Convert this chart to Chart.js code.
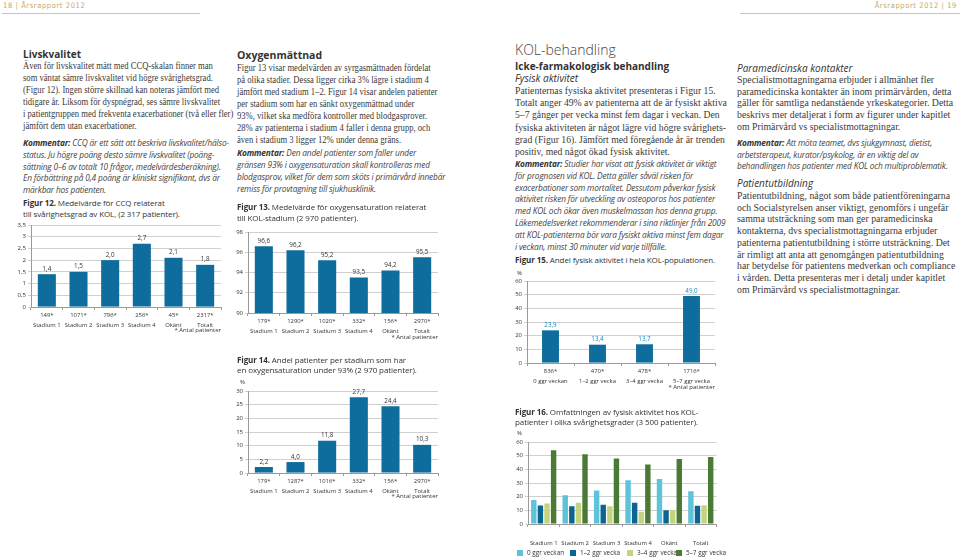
<!DOCTYPE html>
<html lang="sv">
<head>
<meta charset="UTF-8">
<title>Årsrapport 2012</title>
<style>
  html, body { margin: 0; padding: 0; background: #fff; }
  body { width: 960px; height: 558px; position: relative; overflow: hidden; color: #333; }
  .t { position: absolute; white-space: pre; }
  .serif { font-family: "Liberation Serif", serif; font-size: 10px; line-height: 12px; color: #3a3a3a; transform-origin: 0 0; }
  .narrow { transform: scaleX(0.86); }
  .kom { font-family: "Open Sans", sans-serif; font-style: italic; font-size: 8.3px; line-height: 11.8px; color: #444; letter-spacing: -0.15px; }
  .kom b { font-weight: 700; color: #333; }
  .h { font-family: "Open Sans", sans-serif; font-weight: 700; font-size: 10px; line-height: 12px; color: #333; }
  .hi { font-family: "Open Sans", sans-serif; font-style: italic; font-size: 10px; line-height: 12px; color: #333; }
  .cap { font-family: "Open Sans", sans-serif; font-size: 8px; line-height: 10.5px; color: #333; letter-spacing: -0.1px; }
  .cap b { font-weight: 700; }
  .note { font-family: "Open Sans", sans-serif; font-size: 6px; color: #333; }
  .hdr { font-family: "DejaVu Sans Condensed", "DejaVu Sans", sans-serif; font-size: 7.5px; color: #c7aa5c; top: 1px; letter-spacing: 0.6px; }
  .rule { position: absolute; height: 1px; background: #d9c68f; top: 13px; }
  canvas { position: absolute; }
  .leg { position: absolute; top: 548px; font-family: "Open Sans", sans-serif; font-size: 6.4px; color: #333; white-space: pre; }
  .leg i { display: inline-block; width: 6px; height: 6px; margin-right: 4px; vertical-align: -1px; }
</style>
</head>
<body>
<div class="t hdr" style="left:3px;">18 | Årsrapport 2012</div>
<div class="rule" style="left:2px;width:198px;"></div>
<div class="t hdr" style="right:3px;">Årsrapport 2012 | 19</div>
<div class="rule" style="left:740px;width:220px;"></div>

<!-- column 1 -->
<div class="t h" style="left:23px;top:48px;">Livskvalitet</div>
<div class="t serif narrow" style="left:23px;top:60px;">Även för livskvalitet mätt med CCQ-skalan finner man
som väntat sämre livskvalitet vid högre svårighetsgrad.
(Figur 12). Ingen större skillnad kan noteras jämfört med
tidigare år. Liksom för dyspnégrad, ses sämre livskvalitet
i patientgruppen med frekventa exacerbationer (två eller fler)
jämfört dem utan exacerbationer.</div>
<div class="t kom" style="left:23px;top:137px;"><b>Kommentar:</b> CCQ är ett sätt att beskriva livskvalitet/hälso-
status. Ju högre poäng desto sämre livskvalitet (poäng-
sättning 0–6 av totalt 10 frågor, medelvärdesberäkning).
En förbättring på 0,4 poäng är kliniskt signifikant, dvs är
märkbar hos patienten.</div>
<div class="t cap" style="left:23px;top:198px;"><b>Figur 12.</b> Medelvärde för CCQ relaterat
till svårighetsgrad av KOL, (2 317 patienter).</div>
<canvas id="fig12"></canvas>
<div class="t note" style="right:739px;top:326px;">* Antal patienter</div>

<!-- column 2 -->
<div class="t h" style="left:237px;top:49px;font-size:10.5px;">Oxygenmättnad</div>
<div class="t serif narrow" style="left:237px;top:62px;">Figur 13 visar medelvärden av syrgasmättnaden fördelat
på olika stadier. Dessa ligger cirka 3% lägre i stadium 4
jämfört med stadium 1–2. Figur 14 visar andelen patienter
per stadium som har en sänkt oxygenmättnad under
93%, vilket ska medföra kontroller med blodgasprover.
28% av patienterna i stadium 4 faller i denna grupp, och
även i stadium 3 ligger 12% under denna gräns.</div>
<div class="t kom" style="left:237px;top:147px;line-height:12px;"><b>Kommentar:</b> Den andel patienter som faller under
gränsen 93% i oxygensaturation skall kontrolleras med
blodgasprov, vilket för dem som sköts i primärvård innebär
remiss för provtagning till sjukhusklinik.</div>
<div class="t cap" style="left:237px;top:202px;"><b>Figur 13.</b> Medelvärde för oxygensaturation relaterat
till KOL-stadium (2 970 patienter).</div>
<canvas id="fig13"></canvas>
<div class="t note" style="right:522px;top:333px;">* Antal patienter</div>
<div class="t cap" style="left:237px;top:355px;line-height:9.5px;"><b>Figur 14.</b> Andel patienter per stadium som har
en oxygensaturation under 93% (2 970 patienter).</div>
<div class="t note" style="left:240px;top:378px;">%</div>
<canvas id="fig14"></canvas>
<div class="t note" style="right:522px;top:492px;">* Antal patienter</div>

<!-- column 3 -->
<div class="t" style="left:515px;top:41px;font-family:'Open Sans',sans-serif;font-weight:300;font-size:14px;line-height:18px;color:#444;">KOL-behandling</div>
<div class="t h" style="left:515px;top:60px;">Icke-farmakologisk behandling</div>
<div class="t hi" style="left:515px;top:72px;">Fysisk aktivitet</div>
<div class="t serif" style="left:515px;top:85px;line-height:12.2px;transform:scaleX(0.97);">Patienternas fysiska aktivitet presenteras i Figur 15.
Totalt anger 49% av patienterna att de är fysiskt aktiva
5–7 gånger per vecka minst fem dagar i veckan. Den
fysiska aktiviteten är något lägre vid högre svårighets-
grad (Figur 16). Jämfört med föregående år är trenden
positiv, med något ökad fysisk aktivitet.</div>
<div class="t kom" style="left:515px;top:158px;"><b>Kommentar:</b> Studier har visat att fysisk aktivitet är viktigt
för prognosen vid KOL. Detta gäller såväl risken för
exacerbationer som mortalitet. Dessutom påverkar fysisk
aktivitet risken för utveckling av osteoporos hos patienter
med KOL och ökar även muskelmassan hos denna grupp.
Läkemedelsverket rekommenderar i sina riktlinjer från 2009
att KOL-patienterna bör vara fysiskt aktiva minst fem dagar
i veckan, minst 30 minuter vid varje tillfälle.</div>
<div class="t cap" style="left:515px;top:255px;"><b>Figur 15.</b> Andel fysisk aktivitet i hela KOL-populationen.</div>
<div class="t note" style="left:517px;top:269px;">%</div>
<canvas id="fig15"></canvas>
<div class="t note" style="right:245px;top:383px;">* Antal patienter</div>
<div class="t cap" style="left:515px;top:407px;line-height:10px;"><b>Figur 16.</b> Omfattningen av fysisk aktivitet hos KOL-
patienter i olika svårighetsgrader (3 500 patienter).</div>
<div class="t note" style="left:517px;top:429px;">%</div>
<canvas id="fig16"></canvas>
<div id="legend16"></div>

<!-- column 4 -->
<div class="t hi" style="left:737px;top:62px;">Paramedicinska kontakter</div>
<div class="t serif" style="left:737px;top:74px;line-height:11.7px;transform:scaleX(0.98);">Specialistmottagningarna erbjuder i allmänhet fler
paramedicinska kontakter än inom primärvården, detta
gäller för samtliga nedanstående yrkeskategorier. Detta
beskrivs mer detaljerat i form av figurer under kapitlet
om Primärvård vs specialistmottagningar.</div>
<div class="t kom" style="left:737px;top:137px;line-height:11.7px;"><b>Kommentar:</b> Att möta teamet, dvs sjukgymnast, dietist,
arbetsterapeut, kurator/psykolog, är en viktig del av
behandlingen hos patienter med KOL och multiproblematik.</div>
<div class="t hi" style="left:737px;top:177px;">Patientutbildning</div>
<div class="t serif" style="left:737px;top:190px;line-height:11.7px;transform:scaleX(0.98);">Patientutbildning, något som både patientföreningarna
och Socialstyrelsen anser viktigt, genomförs i ungefär
samma utsträckning som man ger paramedicinska
kontakterna, dvs specialistmottagningarna erbjuder
patienterna patientutbildning i större utsträckning. Det
är rimligt att anta att genomgången patientutbildning
har betydelse för patientens medverkan och compliance
i vården. Detta presenteras mer i detalj under kapitlet
om Primärvård vs specialistmottagningar.</div>

<script src="https://cdn.jsdelivr.net/npm/chart.js@4.4.1/dist/chart.umd.min.js"></script>
<script>
// ---- data ----
const stageLabels = ['Stadium 1', 'Stadium 2', 'Stadium 3', 'Stadium 4', 'Okänt', 'Totalt'];

// Figur 12: CCQ
const ccqCounts = ['149*', '1071*', '796*', '256*', '45*', '2317*'];
const ccqValues = [1.4, 1.5, 2.0, 2.7, 2.1, 1.8];

// Figur 13: oxygensaturation
const oxyCounts = ['179*', '1290*', '1020*', '332*', '156*', '2970*'];
const oxyValues = [96.6, 96.2, 95.2, 93.5, 94.2, 95.5];

// Figur 14: andel under 93%
const lowCounts = ['179*', '1287*', '1016*', '332*', '156*', '2970*'];
const lowValues = [2.2, 4.0, 11.8, 27.7, 24.4, 10.3];

// Figur 15: fysisk aktivitet
const actLabels = ['0 ggr veckan', '1–2 ggr vecka', '3–4 ggr vecka', '5–7 ggr vecka'];
const actCounts = ['836*', '470*', '478*', '1716*'];
const actValues = [23.9, 13.4, 13.7, 49.0];

// Figur 16: fysisk aktivitet per stadium
const act0  = [17.5, 21.0, 24.5, 32.0, 33.0, 23.9];
const act12 = [13.5, 13.0, 14.0, 15.5, 10.0, 13.4];
const act34 = [15.0, 15.5, 13.0, 9.0, 10.0, 13.7];
const act57 = [54.0, 51.0, 48.0, 43.5, 47.5, 49.0];

// ---- styling ----
const BLUE = '#0f6d9d';
const GRID = '#c4c4c4';
const AXIS = '#9a9a9a';
const FONT = "'Open Sans', sans-serif";
const comma = v => String(v).replace('.', ',');
const fmt1 = v => v.toFixed(1).replace('.', ',');

const valueLabels = {
  id: 'valueLabels',
  afterDatasetsDraw(chart, args, opts) {
    if (!opts.show) return;
    const ctx = chart.ctx;
    ctx.save();
    ctx.font = '6.3px ' + FONT;
    ctx.fillStyle = opts.color || '#333';
    ctx.textAlign = 'center';
    ctx.textBaseline = 'bottom';
    chart.getDatasetMeta(0).data.forEach((bar, i) => {
      ctx.fillText(fmt1(chart.data.datasets[0].data[i]), bar.x, bar.y - 2);
    });
    ctx.restore();
  }
};

// plot box in page pixels -> canvas placement
function barChart(id, box, data, yopt, extra) {
  const cv = document.getElementById(id);
  const yw = box.yw || 18, xh = box.xh || 22, pt = box.pt || 6, pr = box.pr || 4;
  const w = box.r - box.l + yw + pr;
  const h = box.b - box.t + pt + xh;
  cv.width = w; cv.height = h;
  cv.style.left = (box.l - yw) + 'px';
  cv.style.top = (box.t - pt) + 'px';
  extra = extra || {};
  return new Chart(cv, {
    type: 'bar',
    data: data,
    plugins: [valueLabels],
    options: {
      responsive: false,
      animation: false,
      layout: { padding: { top: pt, right: pr, left: 0, bottom: 0 } },
      plugins: {
        legend: { display: false },
        tooltip: { enabled: false },
        valueLabels: { show: extra.labels !== false, color: extra.labelColor }
      },
      datasets: { bar: { categoryPercentage: extra.cat || 1, barPercentage: extra.bar || 0.57 } },
      scales: {
        x: {
          afterFit: s => { s.height = xh; },
          grid: { drawOnChartArea: false, tickLength: 3, color: AXIS, offset: true },
          border: { color: AXIS },
          ticks: { font: { family: FONT, size: 5.9, lineHeight: 1.6 }, color: '#333', padding: extra.xpad || 1, maxRotation: 0, autoSkip: false }
        },
        y: Object.assign({
          afterFit: s => { s.width = yw; },
          grid: { color: GRID, tickLength: 3, lineWidth: 0.8 },
          border: { color: AXIS }
        }, yopt)
      }
    }
  });
}

const yTicks = step => ({ stepSize: step, font: { family: FONT, size: 6 }, color: '#333', padding: 2, callback: v => comma(v) });
const twoLine = (counts, labels) => counts.map((c, i) => [c, labels[i]]);

barChart('fig12', { l: 31, t: 225, r: 221, b: 307 },
  { labels: twoLine(ccqCounts, stageLabels), datasets: [{ data: ccqValues, backgroundColor: BLUE }] },
  { min: 0, max: 3.5, ticks: yTicks(0.5) });

barChart('fig13', { l: 248, t: 232, r: 438, b: 313 },
  { labels: twoLine(oxyCounts, stageLabels), datasets: [{ data: oxyValues, backgroundColor: BLUE }] },
  { min: 90, max: 98, ticks: yTicks(2) });

barChart('fig14', { l: 248, t: 391, r: 438, b: 473 },
  { labels: twoLine(lowCounts, stageLabels), datasets: [{ data: lowValues, backgroundColor: BLUE }] },
  { min: 0, max: 30, ticks: yTicks(5) });

barChart('fig15', { l: 527, t: 281, r: 715, b: 363 },
  { labels: twoLine(actCounts, actLabels), datasets: [{ data: actValues, backgroundColor: BLUE }] },
  { min: 0, max: 60, ticks: yTicks(10) },
  { bar: 0.36, labelColor: '#1f86b8' });

const actColors = ['#5dc3d8', '#0c6591', '#c4d47e', '#4b7a36'];
barChart('fig16', { l: 528, t: 442, r: 717, b: 524, xh: 22 },
  { labels: stageLabels, datasets: [
    { label: actLabels[0], data: act0, backgroundColor: actColors[0] },
    { label: actLabels[1], data: act12, backgroundColor: actColors[1] },
    { label: actLabels[2], data: act34, backgroundColor: actColors[2] },
    { label: actLabels[3], data: act57, backgroundColor: actColors[3] }
  ] },
  { min: 0, max: 60, ticks: yTicks(10) },
  { labels: false, cat: 0.84, bar: 0.82, xpad: 12 });

// legend for Figur 16
const legX = [517, 570, 627, 676];
document.getElementById('legend16').innerHTML = actLabels.map((l, i) =>
  '<div class="leg" style="left:' + legX[i] + 'px"><i style="background:' + actColors[i] + '"></i>' + l + '</div>').join('');
</script>
</body>
</html>
